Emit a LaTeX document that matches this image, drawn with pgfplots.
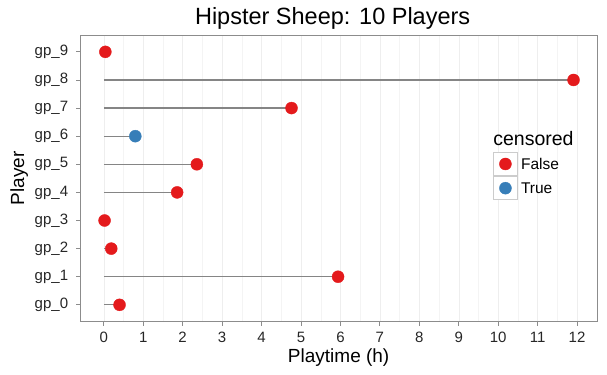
\documentclass[border=0pt]{standalone}
\usepackage{pgfplots}
\usepackage{pgfplotstable}
\pgfplotsset{compat=1.18}
\usepackage{fontspec}
\setmainfont{Liberation Sans}
\definecolor{cred}{HTML}{E41A1C}
\definecolor{cblue}{HTML}{377EB8}
\definecolor{gridc}{HTML}{EEEEEE}
\definecolor{gridm}{HTML}{F4F4F4}
\definecolor{framec}{HTML}{8C8C8C}
\definecolor{linec}{HTML}{858585}
\definecolor{keyc}{HTML}{CCCCCC}

\pgfplotstableread{
idx val
0 0.40
1 5.94
2 0.19
3 0.02
4 1.86
5 2.36
6 0.80
7 4.76
8 11.91
9 0.04
}\alltable
\pgfplotstableread{
idx val
0 0.40
1 5.94
2 0.19
3 0.02
4 1.86
5 2.36
7 4.76
8 11.91
9 0.04
}\falsetable
\pgfplotstableread{
idx val
6 0.80
}\truetable

\begin{document}
\begin{tikzpicture}
\begin{axis}[
  scale only axis,
  width=516.7bp, height=286.7bp,
  xmin=-0.595, xmax=12.505,
  ymin=-0.6, ymax=9.6,
  xtick={0,1,...,12},
  ytick={0,1,...,9},
  yticklabels={gp\_0,gp\_1,gp\_2,gp\_3,gp\_4,gp\_5,gp\_6,gp\_7,gp\_8,gp\_9},
  /pgf/number format/assume math mode=true,
  minor x tick num=1,
  xmajorgrids, xminorgrids,
  grid style={gridc, line width=0.5bp},
  minor grid style={gridm, line width=0.4bp},
  minor tick length=0pt,
  major tick length=4bp,
  tick align=outside,
  xtick pos=bottom, ytick pos=left,
  tick style={framec, line width=0.8bp},
  axis line style={framec, line width=0.8bp},
  ticklabel style={font=\fontsize{15bp}{18bp}\selectfont, text=black!85, inner sep=0pt},
  xticklabel style={yshift=-6bp},
  yticklabel style={xshift=-8bp},
  title={Hipster Sheep: 10 Players},
  title style={font=\fontsize{23.5bp}{27bp}\selectfont, inner sep=0pt, anchor=south, at={(0.5,1)}, yshift=-1bp, xshift=-6bp},
  xlabel={Playtime (h)},
  xlabel style={font=\fontsize{19bp}{22bp}\selectfont, inner sep=0pt, at={(axis description cs:0.5,0)}, anchor=north, yshift=-27.3bp},
  ylabel={Player},
  ylabel style={font=\fontsize{19bp}{22bp}\selectfont, inner sep=0pt, at={(axis description cs:-0.1006,0.5)}, anchor=south},
  legend style={at={(0.799,0.593)}, anchor=north west, draw=none, fill=none, inner sep=0pt, row sep=0pt,
    nodes={inner sep=0pt, text depth=0pt, font=\fontsize{15.5bp}{18bp}\selectfont},
    /tikz/every odd column/.append style={column sep=3.5bp}},
  legend cell align=left,
]
\addplot[xcomb, color=linec, line width=1.3bp, mark=none, forget plot] table[x=val, y=idx] {\alltable};
\addplot[only marks, mark=*, mark size=6bp, color=cred, forget plot] table[x=val, y=idx] {\falsetable};
\addplot[only marks, mark=*, mark size=6bp, color=cblue, forget plot] table[x=val, y=idx] {\truetable};
\addlegendimage{legend image code/.code={
  \draw[draw=keyc, fill=white, line width=0.8bp] (0bp,-11.7bp) rectangle (23.4bp,11.7bp);
  \fill[cred] (11.7bp,0bp) circle (6bp);}}
\addlegendentry{False}
\addlegendimage{legend image code/.code={
  \draw[draw=keyc, fill=white, line width=0.8bp] (0bp,-11.7bp) rectangle (23.4bp,11.7bp);
  \fill[cblue] (11.7bp,0bp) circle (6bp);}}
\addlegendentry{True}
\node[anchor=base west, inner sep=0pt, font=\fontsize{19.5bp}{22bp}\selectfont, yshift=5.7bp] at (rel axis cs:0.799,0.593) {censored};
\end{axis}
\pgfresetboundingbox
\path[use as bounding box] ([shift={(-80.3bp,-53.3bp)}]current axis.south west) rectangle ([shift={(10bp,35bp)}]current axis.north east);
\end{tikzpicture}
\end{document}
